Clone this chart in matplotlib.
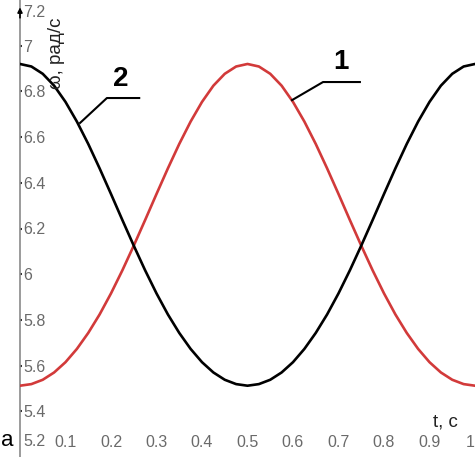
import matplotlib
matplotlib.use('Agg')
import matplotlib.pyplot as plt
import numpy as np

plt.rcParams['font.family'] = ['Liberation Sans', 'DejaVu Sans']

# time, s
t = [0.0, 0.025, 0.05, 0.075, 0.1, 0.125, 0.15, 0.175, 0.2, 0.225,
     0.25, 0.275, 0.3, 0.325, 0.35, 0.375, 0.4, 0.425, 0.45, 0.475,
     0.5, 0.525, 0.55, 0.575, 0.6, 0.625, 0.65, 0.675, 0.7, 0.725,
     0.75, 0.775, 0.8, 0.825, 0.85, 0.875, 0.9, 0.925, 0.95, 0.975, 1.0]

# curve 1 (red), rad/s
omega1 = [5.512, 5.519, 5.538, 5.570, 5.615, 5.673, 5.743, 5.824, 5.916, 6.017,
          6.125, 6.237, 6.351, 6.463, 6.570, 6.668, 6.754, 6.825, 6.877, 6.909,
          6.920, 6.909, 6.877, 6.825, 6.754, 6.668, 6.570, 6.463, 6.351, 6.237,
          6.125, 6.017, 5.916, 5.824, 5.743, 5.673, 5.615, 5.570, 5.538, 5.519, 5.512]

# curve 2 (black), rad/s
omega2 = [6.920, 6.909, 6.877, 6.825, 6.754, 6.668, 6.570, 6.463, 6.351, 6.237,
          6.125, 6.017, 5.916, 5.824, 5.743, 5.673, 5.615, 5.570, 5.538, 5.519,
          5.512, 5.519, 5.538, 5.570, 5.615, 5.673, 5.743, 5.824, 5.916, 6.017,
          6.125, 6.237, 6.351, 6.463, 6.570, 6.668, 6.754, 6.825, 6.877, 6.909, 6.920]

x_ticks = [0.1, 0.2, 0.3, 0.4, 0.5, 0.6, 0.7, 0.8, 0.9, 1.0]
x_labels = ['0.1', '0.2', '0.3', '0.4', '0.5', '0.6', '0.7', '0.8', '0.9', '1']
y_ticks = [5.4, 5.6, 5.8, 6.0, 6.2, 6.4, 6.6, 6.8, 7.0]
y_labels = ['5.4', '5.6', '5.8', '6', '6.2', '6.4', '6.6', '6.8', '7']

tick_color = '#6a6a6a'

fig = plt.figure(figsize=(4.75, 4.57), dpi=100)
ax = fig.add_axes([20 / 475, 0.0, 455 / 475, 1.0])

ax.plot(t, omega1, color='#d23a3a', lw=1.9, solid_joinstyle='round', zorder=3)
ax.plot(t, omega2, color='black', lw=1.9, solid_joinstyle='round', zorder=3)

ax.set_xlim(0, 1)
ax.set_ylim(5.2, 7.2)

for s in ['top', 'right', 'bottom']:
    ax.spines[s].set_visible(False)
ax.spines['left'].set_color('#8a8a8a')
ax.spines['left'].set_linewidth(1.2)

ax.set_xticks(x_ticks)
ax.set_xticklabels(x_labels)
ax.set_yticks(y_ticks)
ax.set_yticklabels(y_labels)

ax.tick_params(axis='x', length=0, pad=-15.5, labelsize=11.5, labelcolor=tick_color)
ax.tick_params(axis='y', direction='in', length=1.5, width=1.5, color='#333333',
               pad=-2.2, labelsize=11.5, labelcolor=tick_color)
for lbl in ax.get_yticklabels():
    lbl.set_horizontalalignment('left')
xl = ax.get_xticklabels()
xl[-1].set_horizontalalignment('right')

# extreme y labels, pulled inside the frame
ax.annotate('7.2', xy=(0, 7.2), xytext=(2.2, -9), textcoords='offset points',
            ha='left', va='center', fontsize=11.5, color=tick_color)
ax.annotate('5.2', xy=(0, 5.2), xytext=(2.2, 11), textcoords='offset points',
            ha='left', va='center', fontsize=11.5, color=tick_color)

# arrow head on the y axis
ax.annotate('', xy=(0, 0.99), xytext=(0, 0.955), xycoords='axes fraction',
            arrowprops=dict(arrowstyle='-|>', color='black', lw=1.2,
                            mutation_scale=7), annotation_clip=False)

# axis titles
ax.text(0.081, 0.884, 'ω, рад/с', transform=ax.transAxes, rotation=90,
        ha='center', va='center', fontsize=13.5, color='#222222')
ax.text(0.934, 0.077, 't, с', transform=ax.transAxes,
        ha='center', va='center', fontsize=13.5, color='#222222')

# curve markers with leader lines
ax.plot([0.132, 0.191, 0.262], [6.662, 6.771, 6.771], color='black', lw=1.5, zorder=4)
ax.text(0.222, 6.854, '2', ha='center', va='center', fontsize=20,
        fontweight='bold', color='black')
ax.plot([0.598, 0.666, 0.747], [6.762, 6.841, 6.841], color='black', lw=1.5, zorder=4)
ax.text(0.705, 6.929, '1', ha='center', va='center', fontsize=20,
        fontweight='bold', color='black')

fig.text(1 / 475, 0.037, 'a', ha='left', va='center', fontsize=16, color='black')

plt.savefig('out.png', dpi=100)
